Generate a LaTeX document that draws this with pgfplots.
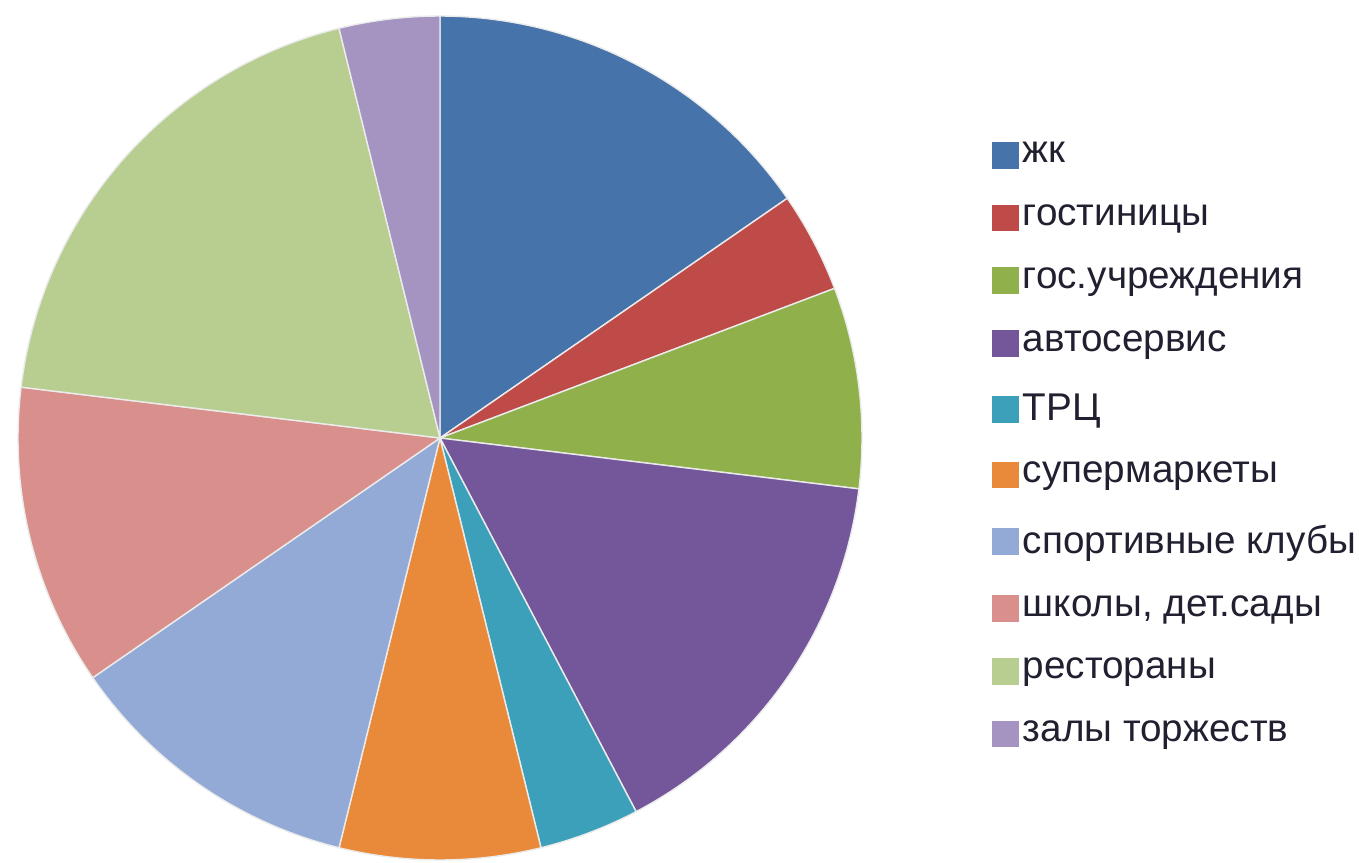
\documentclass[border=0pt]{standalone}
\usepackage{pgfplots}
\usepackage{pgfplotstable}
\pgfplotsset{compat=1.18}
\usepackage{fontspec}
\setmainfont{Liberation Sans}

\definecolor{c0}{HTML}{4573AA}
\definecolor{c1}{HTML}{BE4B48}
\definecolor{c2}{HTML}{8FB04A}
\definecolor{c3}{HTML}{74579A}
\definecolor{c4}{HTML}{3CA0BA}
\definecolor{c5}{HTML}{E88A3A}
\definecolor{c6}{HTML}{93AAD6}
\definecolor{c7}{HTML}{D9908D}
\definecolor{c8}{HTML}{B8CE91}
\definecolor{c9}{HTML}{A593C2}
\definecolor{txt}{HTML}{202030}

% pie slices, clockwise from 12 o'clock
\pgfplotstableread[col sep=semicolon]{
name;value
жк;4
гостиницы;1
гос.учреждения;2
автосервис;4
ТРЦ;1
супермаркеты;2
спортивные клубы;3
школы, дет.сады;3
рестораны;5
залы торжеств;1
}\piedata

\begin{document}
\begin{tikzpicture}
\begin{axis}[
    hide axis,
    x=4.22cm, y=4.22cm,
    xmin=-1, xmax=1, ymin=-1, ymax=1,
    clip=false,
    legend cell align=left,
    legend style={
        at={(1.141,0.492)}, anchor=west,
        draw=none, fill=none,
        font=\fontsize{11}{12.5}\selectfont\color{txt},
        nodes={inner xsep=1.1pt},
        row sep=2.27mm,
    },
    legend image code/.code={
        \fill[#1] (0pt,-3.6pt) rectangle (7.2pt,3.6pt);
    },
]
\coordinate (c) at (axis cs:0,0);

\pgfplotstablegetrowsof{\piedata}
\pgfmathtruncatemacro\nrows{\pgfplotsretval-1}
\def\total{0}
\pgfplotsforeachungrouped \i in {0,...,\nrows}{
    \pgfplotstablegetelem{\i}{value}\of\piedata
    \pgfmathsetmacro\total{\total+\pgfplotsretval}
}
\def\acc{0}
\pgfplotsforeachungrouped \i in {0,...,\nrows}{
    \pgfplotstablegetelem{\i}{value}\of\piedata
    \pgfmathsetmacro\aS{90-\acc/\total*360}
    \pgfmathsetmacro\acc{\acc+\pgfplotsretval}
    \pgfmathsetmacro\aE{90-\acc/\total*360}
    \edef\temp{\noexpand\fill[c\i, draw=white!92!black, line width=0.4pt]
        (axis cs:0,0) -- plot[domain=\aE:\aS, samples=60]
        (axis cs:{cos(\noexpand\x)},{sin(\noexpand\x)}) -- cycle;}
    \temp
}

\addlegendimage{c0}\addlegendentry{жк}
\addlegendimage{c1}\addlegendentry{гостиницы}
\addlegendimage{c2}\addlegendentry{гос.учреждения}
\addlegendimage{c3}\addlegendentry{автосервис}
\addlegendimage{c4}\addlegendentry{ТРЦ}
\addlegendimage{c5}\addlegendentry{супермаркеты}
\addlegendimage{c6}\addlegendentry{спортивные клубы}
\addlegendimage{c7}\addlegendentry{школы, дет.сады}
\addlegendimage{c8}\addlegendentry{рестораны}
\addlegendimage{c9}\addlegendentry{залы торжеств}
\end{axis}
\pgfresetboundingbox
\path[use as bounding box] (c) ++(-4.40cm,-4.24cm) rectangle ++(13.59cm,8.62cm);
\end{tikzpicture}
\end{document}
